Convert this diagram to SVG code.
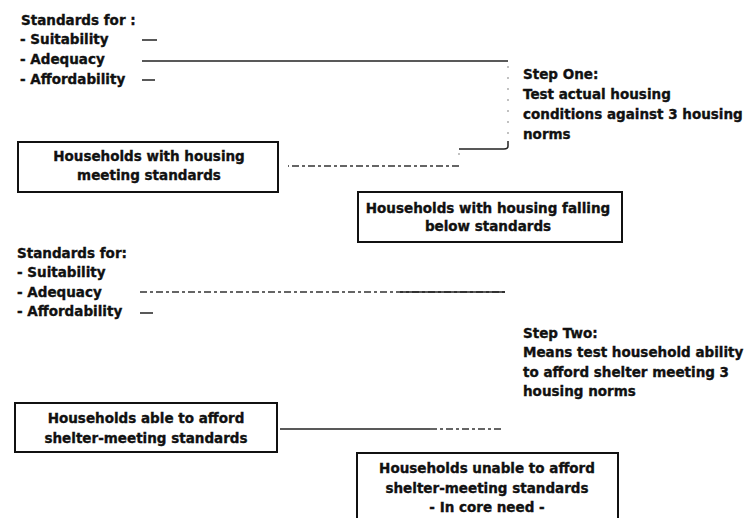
<svg xmlns="http://www.w3.org/2000/svg" width="756" height="518" viewBox="0 0 756 518">
<style>
text{font-family:"DejaVu Sans","Liberation Sans",sans-serif;font-weight:bold;font-size:13.5px;fill:#111;stroke:#111;stroke-width:0.35}
.c{text-anchor:middle}
.box{fill:#fff;stroke:#111;stroke-width:2}
.ln{fill:none;stroke:#222;stroke-width:1.5}
.fd{fill:none;stroke:#999;stroke-width:1.2;stroke-dasharray:2 9}
.dl{fill:none;stroke:#333;stroke-width:1.3;stroke-dasharray:7 3 3 3}
</style>
<rect width="756" height="518" fill="#fff"/>
<g id="standards1">
<text x="21" y="25">Standards for :</text>
<text x="20" y="44">- Suitability</text>
<text x="20" y="64">- Adequacy</text>
<text x="20" y="84">- Affordability</text>
</g>
<g id="step1">
<text x="523" y="79">Step One:</text>
<text x="523" y="99">Test actual housing</text>
<text x="523" y="119">conditions against 3 housing</text>
<text x="523" y="139">norms</text>
</g>
<g id="box1">
<rect class="box" x="18" y="142" width="260" height="50"/>
<text class="c" x="149" y="161">Households with housing</text>
<text class="c" x="149" y="180">meeting standards</text>
</g>
<g id="box2">
<rect class="box" x="358" y="192" width="264" height="50"/>
<text class="c" x="488" y="213">Households with housing falling</text>
<text class="c" x="488" y="231">below standards</text>
</g>
<g id="standards2">
<text x="17" y="258">Standards for:</text>
<text x="17" y="277">- Suitability</text>
<text x="17" y="297">- Adequacy</text>
<text x="17" y="316">- Affordability</text>
</g>
<g id="step2">
<text x="523" y="338">Step Two:</text>
<text x="523" y="357">Means test household ability</text>
<text x="523" y="377">to afford shelter meeting 3</text>
<text x="523" y="396">housing norms</text>
</g>
<g id="box3">
<rect class="box" x="15" y="403" width="262" height="49"/>
<text class="c" x="146" y="423">Households able to afford</text>
<text class="c" x="146" y="443">shelter-meeting standards</text>
</g>
<g id="box4">
<rect class="box" x="357" y="453" width="261" height="70"/>
<text class="c" x="487" y="473">Households unable to afford</text>
<text class="c" x="487" y="493">shelter-meeting standards</text>
<text class="c" x="487" y="512">- In core need -</text>
</g>
<g id="connectors">
<line class="ln" x1="142" y1="40" x2="157" y2="40"/>
<line class="ln" x1="142" y1="61" x2="508" y2="61"/>
<line class="ln" x1="142" y1="80" x2="155" y2="80" stroke-width="1.2"/>
<line class="fd" x1="508" y1="66" x2="508" y2="140"/>
<path class="ln" d="M508,141 V146 Q508,149 504,149 H459" stroke-width="1.3"/>
<line class="fd" x1="459" y1="153" x2="459" y2="163"/>
<path class="dl" d="M459,166 H288"/>
<path class="dl" d="M140,292 H505" stroke="#777" stroke-dasharray="3 6 5 8"/>
<path class="ln" d="M400,292 H505" stroke-width="1.2"/>
<line class="ln" x1="140" y1="313" x2="153" y2="313" stroke-width="1"/>
<path class="ln" d="M280,429 H430" stroke-width="1.4"/>
<path class="dl" d="M430,429 H503"/>
</g>
</svg>
